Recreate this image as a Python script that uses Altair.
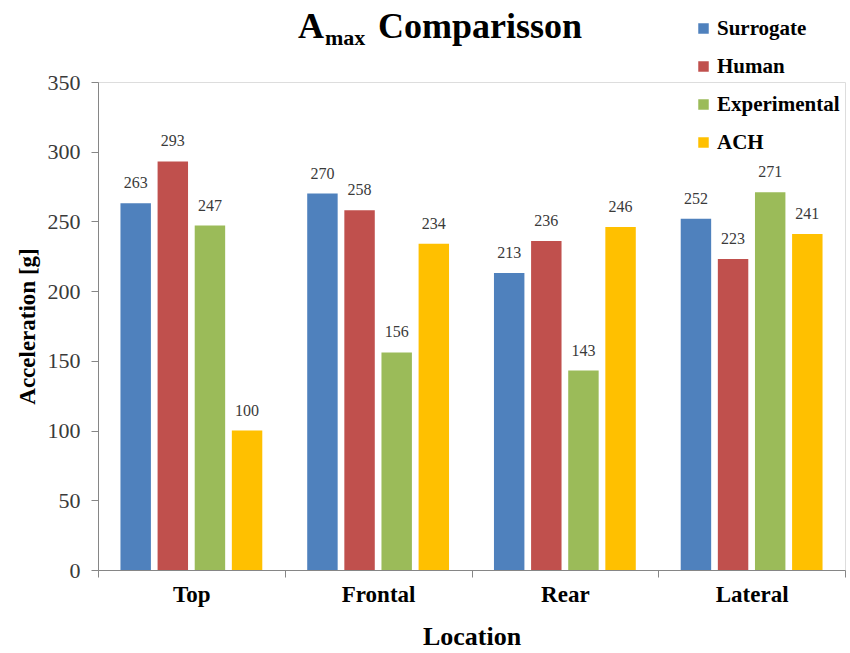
import altair as alt
import pandas as pd

# Peak acceleration per impact location and model
locations = ["Top", "Frontal", "Rear", "Lateral"]
series = ["Surrogate", "Human", "Experimental", "ACH"]
surrogate = [263, 270, 213, 252]
human = [293, 258, 236, 223]
experimental = [247, 156, 143, 271]
ach = [100, 234, 246, 241]
colors = ["#4F81BD", "#C0504D", "#9BBB59", "#FFC000"]
y_ticks = [0, 50, 100, 150, 200, 250, 300, 350]

values = {"Surrogate": surrogate, "Human": human, "Experimental": experimental, "ACH": ach}
rows = []
for s in series:
    for loc, v in zip(locations, values[s]):
        rows.append({"Location": loc, "Series": s, "Acceleration": v})
df = pd.DataFrame(rows)

SERIF = "Liberation Serif"
AXIS_GRAY = "#868686"
TEXT_GRAY = "#3a3a3a"

# Full-width bands so the category ticks fall on the group boundaries
x_enc = alt.X(
    "Location:N",
    sort=locations,
    scale=alt.Scale(paddingInner=0, paddingOuter=0),
    axis=alt.Axis(
        title="Location",
        labelAngle=0,
        labelFont=SERIF,
        labelFontSize=23,
        labelFontWeight="bold",
        labelColor="black",
        labelPadding=6,
        titleFont=SERIF,
        titleFontSize=26,
        titleFontWeight="bold",
        titleColor="black",
        titlePadding=17,
        tickBand="extent",
        tickSize=7,
        tickColor=AXIS_GRAY,
        domainColor=AXIS_GRAY,
        grid=False,
    ),
)
y_enc = alt.Y(
    "Acceleration:Q",
    scale=alt.Scale(domain=[0, 350], nice=False),
    axis=alt.Axis(
        title="Acceleration [g]",
        values=y_ticks,
        labelFont=SERIF,
        labelFontSize=22,
        labelColor=TEXT_GRAY,
        labelPadding=11,
        titleFont=SERIF,
        titleFontSize=23,
        titleFontWeight="bold",
        titleColor="black",
        titlePadding=8,
        tickSize=7,
        tickColor=AXIS_GRAY,
        domainColor=AXIS_GRAY,
        grid=False,
    ),
)
xoff_scale = alt.Scale(paddingInner=0.18, paddingOuter=0.605)

bars = alt.Chart(df).mark_bar().encode(
    x=x_enc,
    y=y_enc,
    xOffset=alt.XOffset("Series:N", sort=series, scale=xoff_scale),
    color=alt.Color(
        "Series:N",
        sort=series,
        scale=alt.Scale(domain=series, range=colors),
        legend=alt.Legend(
            title=None,
            orient="none",
            legendX=595,
            legendY=-64,
            symbolType="square",
            symbolSize=110,
            symbolStrokeWidth=0,
            labelFont=SERIF,
            labelFontSize=21,
            labelFontWeight="bold",
            labelColor="black",
            labelOffset=3,
            rowPadding=16,
        ),
    ),
)

labels = alt.Chart(df).mark_text(
    font=SERIF, fontSize=16, color=TEXT_GRAY, dy=-15, baseline="alphabetic"
).encode(
    x=alt.X("Location:N", sort=locations),
    y="Acceleration:Q",
    xOffset=alt.XOffset("Series:N", sort=series),
    text="Acceleration:Q",
)

# Title "A_max Comparisson" built from three text pieces (subscript "max")
title_main = alt.Chart(pd.DataFrame({"t": ["A"]})).mark_text(
    font=SERIF, fontSize=36, fontWeight="bold", align="left", baseline="alphabetic", color="black"
).encode(x=alt.value(200), y=alt.value(-44), text="t:N")
title_sub = alt.Chart(pd.DataFrame({"t": ["max"]})).mark_text(
    font=SERIF, fontSize=22, fontWeight="bold", align="left", baseline="alphabetic", color="black"
).encode(x=alt.value(227), y=alt.value(-37), text="t:N")
title_rest = alt.Chart(pd.DataFrame({"t": ["Comparisson"]})).mark_text(
    font=SERIF, fontSize=36, fontWeight="bold", align="left", baseline="alphabetic", color="black"
).encode(x=alt.value(280), y=alt.value(-44), text="t:N")

chart = (
    alt.layer(bars, labels, title_main, title_sub, title_rest)
    .properties(
        width=747,
        height=488,
        autosize=alt.AutoSizeParams(type="none"),
        padding={"left": 98, "top": 82, "right": 5, "bottom": 83},
    )
    .configure_view(stroke="transparent", strokeWidth=0, strokeOpacity=0)
    .configure(background="white")
)

chart.save("out.html", embed_options={"renderer": "svg", "actions": False})
